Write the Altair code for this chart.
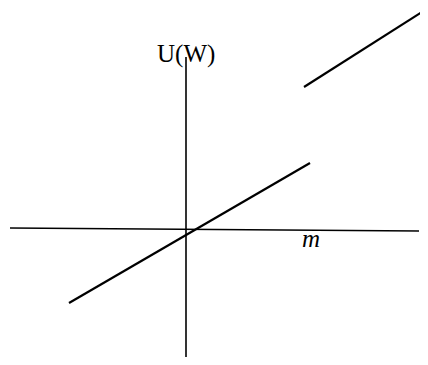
import altair as alt
import pandas as pd

# Segment endpoints in chart units (m horizontal, U(W) vertical), origin at axis crossing
seg_name = ["m-axis", "U-axis", "lower line", "upper line"]
seg_x1 = [-8.8, 0.0, -5.85, 5.9]
seg_y1 = [0.05, 8.6, -3.7, 7.1]
seg_x2 = [11.65, 0.0, 6.2, 11.8]
seg_y2 = [-0.1, -6.8, 3.3, 10.85]
seg_w = [1.6, 1.6, 2.2, 2.2]

label_text = ["U(W)", "m"]
label_x = [-1.45, 5.8]
label_y = [8.35, -0.9]
label_style = ["normal", "italic"]

segs = pd.DataFrame({"name": seg_name, "x": seg_x1, "y": seg_y1,
                     "x2": seg_x2, "y2": seg_y2, "w": seg_w})
labels = pd.DataFrame({"t": label_text, "x": label_x, "y": label_y, "s": label_style})

xs = alt.Scale(domain=[-8.9, 11.7], nice=False, zero=False)
ys = alt.Scale(domain=[-6.4, 11.05], nice=False, zero=False)

rules = alt.Chart(segs).mark_rule(color="black", clip=True, strokeCap="butt").encode(
    x=alt.X("x:Q", scale=xs, axis=None),
    y=alt.Y("y:Q", scale=ys, axis=None),
    x2="x2:Q",
    y2="y2:Q",
    strokeWidth=alt.StrokeWidth("w:Q", scale=None, legend=None),
)

text_u = alt.Chart(labels[labels.s == "normal"]).mark_text(
    font="Liberation Serif", fontSize=25, align="left", baseline="alphabetic", color="black"
).encode(x=alt.X("x:Q", scale=xs, axis=None), y=alt.Y("y:Q", scale=ys, axis=None), text="t:N")

text_m = alt.Chart(labels[labels.s == "italic"]).mark_text(
    font="Liberation Serif", fontSize=25, fontStyle="italic", align="left",
    baseline="alphabetic", color="black"
).encode(x=alt.X("x:Q", scale=xs, axis=None), y=alt.Y("y:Q", scale=ys, axis=None), text="t:N")

chart = alt.layer(rules, text_u, text_m).properties(
    width=412, height=349, padding=0, autosize=alt.AutoSizeParams(type="none"),
    background="white"
).configure_view(stroke=None)

chart.save("out.html", embed_options={"renderer": "svg", "actions": False})
